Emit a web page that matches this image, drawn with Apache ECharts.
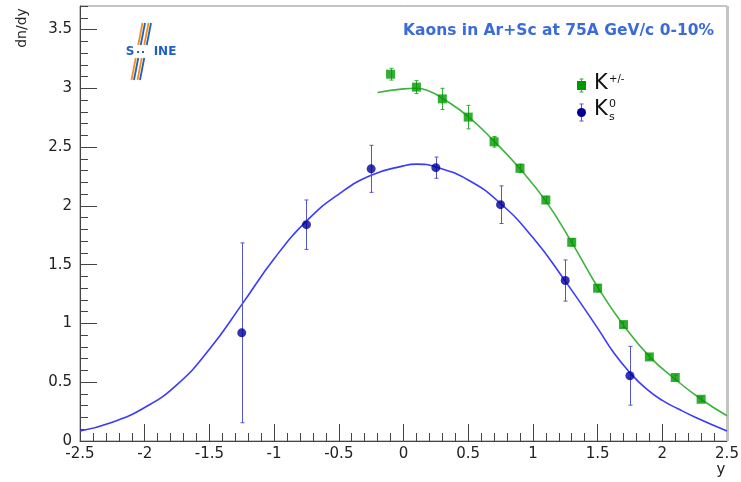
<!DOCTYPE html>
<html>
<head>
<meta charset="utf-8">
<script src="https://cdn.jsdelivr.net/npm/echarts@6/dist/echarts.min.js"></script>
<style>
  html, body { margin: 0; padding: 0; background: #fff; }
  #chart { width: 741px; height: 482px; }
</style>
</head>
<body>
<div id="chart"></div>
<script>
// Charged kaons K+/- : rapidity, dn/dy, uncertainty
const kpmX   = [-0.1, 0.1, 0.3, 0.5, 0.7, 0.9, 1.1, 1.3, 1.5, 1.7, 1.9, 2.1, 2.3];
const kpmY   = [3.12, 3.01, 2.91, 2.755, 2.545, 2.32, 2.05, 1.69, 1.30, 0.99, 0.715, 0.54, 0.355];
const kpmErr = [0.05, 0.055, 0.09, 0.10, 0.045, 0.035, 0.03, 0.03, 0.03, 0.025, 0.02, 0.02, 0.02];

// Neutral kaons K0s
const k0X   = [-1.25, -0.75, -0.25, 0.25, 0.75, 1.25, 1.75];
const k0Y   = [0.92, 1.84, 2.315, 2.325, 2.01, 1.365, 0.555];
const k0Err = [0.765, 0.21, 0.20, 0.09, 0.16, 0.175, 0.25];

// Fitted distributions, sampled along y
const kpmFitX = [-0.2, 0, 0.1, 0.2, 0.3, 0.5, 0.7, 0.9, 1.1, 1.3, 1.5, 1.7, 1.9, 2.1, 2.3, 2.5];
const kpmFitY = [2.965, 2.995, 3.0, 2.975, 2.915, 2.76, 2.55, 2.315, 2.04, 1.69, 1.31, 0.985, 0.72, 0.525, 0.355, 0.215];
const k0FitX = [-2.5, -2.25, -2.0, -1.75, -1.5, -1.25, -1.0, -0.75, -0.5, -0.25, 0, 0.1, 0.25, 0.5, 0.75, 1.0, 1.25, 1.5, 1.625, 1.75, 1.875, 2.0, 2.125, 2.25, 2.5];
const k0FitY = [0.085, 0.16, 0.285, 0.48, 0.78, 1.16, 1.55, 1.87, 2.10, 2.26, 2.34, 2.355, 2.33, 2.22, 2.02, 1.73, 1.36, 0.96, 0.75, 0.58, 0.445, 0.345, 0.272, 0.205, 0.085];

// Axis ranges and tick spacing
const xRange = [-2.5, 2.5];
const yRange = [0, 3.7];
const majorStep = 0.5;
const minorStep = 0.1;

const FONT = 'DejaVu Sans';
const chart = echarts.init(document.getElementById('chart'), null, { renderer: 'canvas' });

function pairs(xs, ys) { return xs.map((x, i) => [x, ys[i]]); }

function errorBars(name, xs, ys, errs, color) {
  return {
    name: name,
    type: 'custom',
    data: xs.map((x, i) => [x, ys[i] - errs[i], ys[i] + errs[i]]),
    encode: { x: 0, y: [1, 2] },
    z: 3,
    silent: true,
    renderItem: function (params, api) {
      const lo = api.coord([api.value(0), api.value(1)]);
      const hi = api.coord([api.value(0), api.value(2)]);
      const cx = Math.round(lo[0]) + 0.5;
      const cap = 2;
      const style = { stroke: color, lineWidth: 1, fill: null };
      return {
        type: 'group',
        children: [
          { type: 'line', shape: { x1: cx, y1: lo[1], x2: cx, y2: hi[1] }, style: style },
          { type: 'line', shape: { x1: cx - cap, y1: lo[1], x2: cx + cap, y2: lo[1] }, style: style },
          { type: 'line', shape: { x1: cx - cap, y1: hi[1], x2: cx + cap, y2: hi[1] }, style: style }
        ]
      };
    }
  };
}

const labelStyle = { fontFamily: FONT, fontSize: 15, color: '#222' };

// Logo geometry helpers: slanted double strokes
const slope = 11 / 57;
function slash(x0, color, yA, yB) {
  return {
    type: 'line',
    shape: { x1: x0 - (yA - 23) * slope, y1: yA, x2: x0 - (yB - 23) * slope, y2: yB },
    style: { stroke: color, lineWidth: 1.8 }
  };
}
const logoBlue = '#1f5fc4';
const logoOrange = '#f09020';
const logoParts = [];
[[142.5, logoOrange], [145, logoBlue], [148.5, logoOrange], [151, logoBlue]].forEach(function (s) {
  logoParts.push(slash(s[0], s[1], 23, 45));
  logoParts.push(slash(s[0], s[1], 58, 80));
});
logoParts.push({ type: 'text', x: 130, y: 52, style: { text: 'S', font: 'bold 12px "' + FONT + '"', fill: logoBlue, align: 'center', verticalAlign: 'middle' } });
logoParts.push({ type: 'rect', shape: { x: 137, y: 51, width: 2, height: 2 }, style: { fill: logoBlue } });
logoParts.push({ type: 'rect', shape: { x: 142, y: 51, width: 2, height: 2 }, style: { fill: logoBlue } });
logoParts.push({ type: 'text', x: 165, y: 52, style: { text: 'INE', font: 'bold 12px "' + FONT + '"', fill: logoBlue, align: 'center', verticalAlign: 'middle' } });

// Legend block drawn with error-bar glyphs
const green = '#009900';
const navy = '#000099';
const legendParts = [
  { type: 'line', shape: { x1: 581.5, y1: 79, x2: 581.5, y2: 92 }, style: { stroke: '#33aa33', lineWidth: 1 } },
  { type: 'line', shape: { x1: 579.5, y1: 79, x2: 583.5, y2: 79 }, style: { stroke: '#33aa33', lineWidth: 1 } },
  { type: 'line', shape: { x1: 579.5, y1: 92, x2: 583.5, y2: 92 }, style: { stroke: '#33aa33', lineWidth: 1 } },
  { type: 'rect', shape: { x: 577, y: 81, width: 9, height: 9 }, style: { fill: green } },
  { type: 'text', x: 594, y: 84, style: { text: 'K', font: '21px "' + FONT + '"', fill: '#111', verticalAlign: 'middle' } },
  { type: 'text', x: 609, y: 79, style: { text: '+/-', font: '10px "' + FONT + '"', fill: '#111', verticalAlign: 'middle' } },
  { type: 'line', shape: { x1: 581.5, y1: 104, x2: 581.5, y2: 121 }, style: { stroke: '#5555cc', lineWidth: 1 } },
  { type: 'line', shape: { x1: 579.5, y1: 104, x2: 583.5, y2: 104 }, style: { stroke: '#5555cc', lineWidth: 1 } },
  { type: 'line', shape: { x1: 579.5, y1: 121, x2: 583.5, y2: 121 }, style: { stroke: '#5555cc', lineWidth: 1 } },
  { type: 'circle', shape: { cx: 581.5, cy: 112.5, r: 4.5 }, style: { fill: navy } },
  { type: 'text', x: 594, y: 110, style: { text: 'K', font: '21px "' + FONT + '"', fill: '#111', verticalAlign: 'middle' } },
  { type: 'text', x: 609, y: 104, style: { text: '0', font: '11px "' + FONT + '"', fill: '#111', verticalAlign: 'middle' } },
  { type: 'text', x: 609, y: 117, style: { text: 's', font: '11px "' + FONT + '"', fill: '#111', verticalAlign: 'middle' } }
];

const option = {
  animation: false,
  backgroundColor: '#ffffff',
  grid: {
    left: 80, right: 14, top: 6, bottom: 41,
    show: true, borderColor: '#888', borderWidth: 1,
    outerBoundsMode: 'none'
  },
  xAxis: [{
    type: 'value',
    min: xRange[0], max: xRange[1], interval: majorStep,
    axisLine: { show: true, onZero: false, lineStyle: { color: '#444', width: 1 } },
    axisTick: { show: true, inside: true, length: 17, lineStyle: { color: '#444' } },
    minorTick: { show: true, splitNumber: Math.round(majorStep / minorStep), length: 8, lineStyle: { color: '#444' } },
    axisLabel: Object.assign({ margin: 6 }, labelStyle),
    splitLine: { show: false }
  }],
  yAxis: [{
    // minor ticks every 0.1
    type: 'value',
    position: 'left',
    min: yRange[0], max: yRange[1], interval: minorStep,
    axisLine: { show: true, onZero: false, lineStyle: { color: '#444', width: 1 } },
    axisTick: { show: true, inside: true, length: 8, lineStyle: { color: '#444' } },
    axisLabel: { show: false },
    splitLine: { show: false }
  }, {
    // major ticks and labels every 0.5
    type: 'value',
    position: 'left',
    offset: 0,
    min: yRange[0], max: yRange[1], interval: majorStep,
    axisLine: { show: false, onZero: false },
    axisTick: { show: true, inside: true, length: 17, lineStyle: { color: '#444' } },
    axisLabel: Object.assign({ margin: 8, showMaxLabel: false }, labelStyle),
    splitLine: { show: false }
  }],
  series: [
    {
      name: 'K+/- fit', type: 'line', data: pairs(kpmFitX, kpmFitY),
      smooth: true, showSymbol: false, symbol: 'none',
      lineStyle: { color: '#3cb43c', width: 1.6 }, z: 2, silent: true
    },
    {
      name: 'K0s fit', type: 'line', data: pairs(k0FitX, k0FitY),
      smooth: true, showSymbol: false, symbol: 'none',
      lineStyle: { color: '#3a3aff', width: 1.6 }, z: 2, silent: true
    },
    errorBars('K+/- errors', kpmX, kpmY, kpmErr, '#33aa33'),
    errorBars('K0s errors', k0X, k0Y, k0Err, '#5555cc'),
    {
      name: 'K+/-', type: 'scatter', data: pairs(kpmX, kpmY),
      symbol: 'rect', symbolSize: 9, itemStyle: { color: green }, z: 4
    },
    {
      name: 'K0s', type: 'scatter', data: pairs(k0X, k0Y),
      symbol: 'circle', symbolSize: 9, itemStyle: { color: navy }, z: 4
    }
  ],
  graphic: [
    // shaded right edge of the frame
    { type: 'rect', shape: { x: 726, y: 6, width: 3, height: 435 }, style: { fill: '#c4c4c4' }, z: 1 },
    {
      type: 'text', x: 714, y: 31, z: 10,
      style: { text: 'Kaons in Ar+Sc at 75A GeV/c 0-10%', font: 'bold 15.5px "' + FONT + '"', fill: '#3b6bd9', align: 'right', verticalAlign: 'middle' }
    },
    {
      type: 'text', x: 22, y: 28, rotation: Math.PI / 2, z: 10,
      style: { text: 'dn/dy', font: '14px "' + FONT + '"', fill: '#222', align: 'center', verticalAlign: 'middle' }
    },
    {
      type: 'text', x: 721, y: 470, z: 10,
      style: { text: 'y', font: '15px "' + FONT + '"', fill: '#222', align: 'center', verticalAlign: 'middle' }
    },
    { type: 'group', z: 10, children: logoParts },
    { type: 'group', z: 10, children: legendParts }
  ]
};

chart.setOption(option);
</script>
</body>
</html>
